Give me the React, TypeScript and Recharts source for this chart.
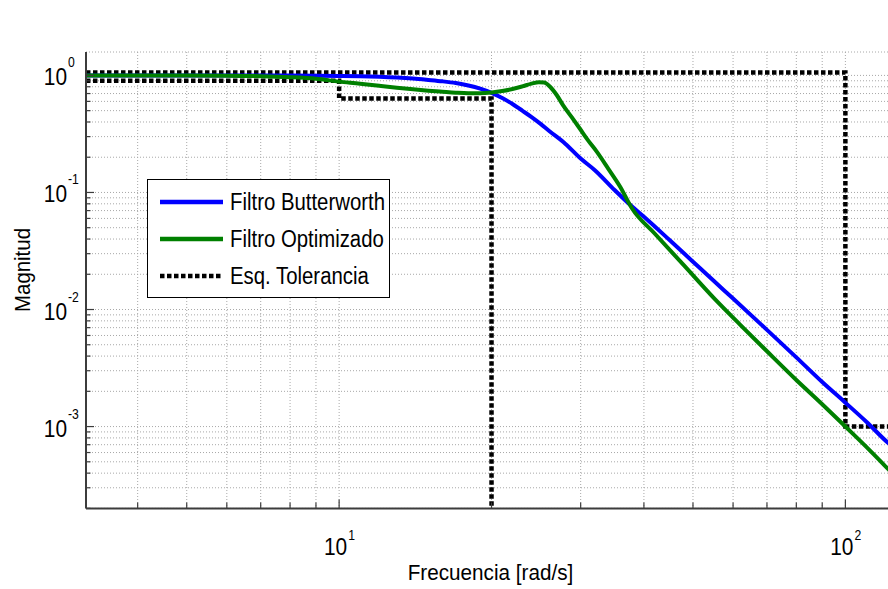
import React from 'react';
import { LineChart, Line, XAxis, YAxis, CartesianGrid, Legend, Label } from 'recharts';

const FONT = '"Liberation Sans", Arial, Helvetica, sans-serif';
const AXIS = '#3c3c3c';
const GRID = '#a8a8a8';
const SX = 0.87; // horizontal condensation of the reference's lettering

// axis ranges (log10 decades)
const X_MIN = 3.1623; // 10^0.5
const X_MAX = 125.89; // 10^2.1
const Y_MIN = 0.00019953; // 10^-3.7
const Y_MAX = 1.5849; // 10^0.2

// tick values
const xTicks = [4, 5, 6, 7, 8, 9, 10, 20, 30, 40, 50, 60, 70, 80, 90, 100];
const yDecades = [0.0001, 0.001, 0.01, 0.1, 1];
const yMultipliers = [1, 2, 3, 4, 5, 6, 7, 8, 9];
const yTicks: number[] = [];
yDecades.forEach((d) => yMultipliers.forEach((m) => {
  const v = +(d * m).toPrecision(3);
  if (v >= Y_MIN && v <= Y_MAX) yTicks.push(v);
}));

// Filtro Butterworth
const butterFreq = [3.162, 5, 7, 8, 9, 10, 11, 12, 13, 14, 15, 16, 17, 18, 19, 20, 21, 22, 23, 24, 25, 26, 28, 30, 32, 35, 38, 40, 45, 50, 55, 60, 70, 80, 90, 100, 110, 121.7, 125.9];
const butterMag = [1.0, 1.0, 0.999, 0.997, 0.994, 0.99, 0.985, 0.975, 0.96, 0.94, 0.915, 0.89, 0.86, 0.82, 0.77, 0.71, 0.64, 0.57, 0.5, 0.44, 0.385, 0.335, 0.26, 0.195, 0.155, 0.105, 0.075, 0.062, 0.039, 0.0256, 0.0175, 0.0124, 0.0067, 0.0039, 0.0024, 0.0016, 0.0011, 0.00072, 0.00064];

// Filtro Optimizado
const optFreq = [3.162, 5, 6, 7, 8, 9, 10, 11, 12, 13, 14, 15, 16, 17, 18, 19, 20, 21, 22, 23, 24, 24.8, 25.4, 26.1, 26.9, 27.7, 28.8, 29.9, 31, 32.3, 34, 35.9, 37.9, 42, 48, 55, 62, 70, 80, 90, 100, 112, 121.7, 125.9];
const optMag = [1.0, 0.998, 0.995, 0.985, 0.965, 0.935, 0.885, 0.85, 0.815, 0.785, 0.76, 0.74, 0.725, 0.712, 0.705, 0.705, 0.715, 0.735, 0.765, 0.805, 0.85, 0.875, 0.87, 0.8, 0.68, 0.555, 0.44, 0.35, 0.28, 0.222, 0.16, 0.112, 0.073, 0.0446, 0.0238, 0.0125, 0.0074, 0.0044, 0.0025, 0.00155, 0.001, 0.00062, 0.00043, 0.00037];

// Esquema de tolerancia
const tolLowFreq = [3.162, 10, 10, 20, 20];
const tolLowMag = [0.9, 0.9, 0.635, 0.635, 0.00021];
const tolHighFreq = [3.162, 100, 100, 125.9];
const tolHighMag = [1.06, 1.06, 0.001, 0.001];

const zip = (f: number[], m: number[]) => f.map((v, i) => ({ f: v, m: m[i] }));
const butterData = zip(butterFreq, butterMag);
const optData = zip(optFreq, optMag);
const tolLowData = zip(tolLowFreq, tolLowMag);
const tolHighData = zip(tolHighFreq, tolHighMag);

const legendItems = [
  { name: 'Filtro Butterworth', color: '#0000ff', dash: undefined as string | undefined },
  { name: 'Filtro Optimizado', color: '#008000', dash: undefined as string | undefined },
  { name: 'Esq. Tolerancia', color: '#000000', dash: '4.5 2.5' },
];

const isMajor = (v: number) => Math.abs(Math.log10(v) - Math.round(Math.log10(v))) < 1e-6;

// condensed text helper
const CText = ({ x, y, size, anchor = 'start', sx = SX, rotate = 0, children }: any) => (
  <text
    transform={`translate(${x},${y}) rotate(${rotate}) scale(${sx},1)`}
    x={0}
    y={0}
    fontFamily={FONT}
    fontSize={size}
    textAnchor={anchor}
    fill="#000"
  >
    {children}
  </text>
);

const XTickBottom = (props: any) => {
  const { x, y, payload } = props;
  const v = payload.value;
  const major = isMajor(v);
  const e = Math.round(Math.log10(v));
  return (
    <g>
      <line x1={x} x2={x} y1={y} y2={y - (major ? 9 : 6)} stroke={AXIS} strokeWidth={1.2} />
      {major && (
        <g>
          <CText x={x + 8} y={y + 46.5} size={24} anchor="end">10</CText>
          <CText x={x + 9} y={y + 31} size={14} anchor="start">{e}</CText>
        </g>
      )}
    </g>
  );
};

const XTickTop = (props: any) => {
  const { x, y, payload } = props;
  const major = isMajor(payload.value);
  return <line x1={x} x2={x} y1={y} y2={y + (major ? 9 : 6)} stroke={AXIS} strokeWidth={1.2} />;
};

const YTickLeft = (props: any) => {
  const { x, y, payload } = props;
  const v = payload.value;
  const major = isMajor(v);
  const e = Math.round(Math.log10(v));
  return (
    <g>
      <line x1={x} x2={x + (major ? 8 : 4.5)} y1={y} y2={y} stroke={AXIS} strokeWidth={1.2} />
      {major && (
        <g>
          <CText x={x - 19} y={y + 10} size={24} anchor="end">10</CText>
          <CText x={x - 18} y={y - 8} size={14} anchor="start">{e}</CText>
        </g>
      )}
    </g>
  );
};

const LegendBox = () => (
  <div
    style={{
      width: 243,
      height: 119,
      border: '1.5px solid #000',
      background: '#fff',
      boxSizing: 'border-box',
      fontFamily: FONT,
      fontSize: 23,
      color: '#000',
      position: 'relative',
    }}
  >
    {legendItems.map((it, i) => (
      <div
        key={it.name}
        style={{ position: 'absolute', left: 0, top: [7, 44, 81][i], height: 30, display: 'flex', alignItems: 'center', whiteSpace: 'nowrap' }}
      >
        <svg width={82} height={10} style={{ display: 'block', flex: 'none' }}>
          <line x1={12} x2={75} y1={5} y2={5} stroke={it.color} strokeWidth={4.5} strokeDasharray={it.dash} />
        </svg>
        <span style={{ display: 'inline-block', transform: 'scaleX(0.885)', transformOrigin: 'left center', lineHeight: '30px' }}>{it.name}</span>
      </div>
    ))}
  </div>
);

export default function App() {
  return (
    <div style={{ position: 'absolute', left: 0, top: 0, width: 888, height: 589, overflow: 'hidden', background: '#fff' }}>
      <LineChart width={896} height={589} margin={{ top: 52, right: 0, bottom: 0, left: 0 }}>
        <CartesianGrid stroke={GRID} strokeDasharray="1 2" strokeWidth={1} />
        <XAxis
          dataKey="f"
          type="number"
          scale="log"
          domain={[X_MIN, X_MAX]}
          allowDataOverflow
          ticks={xTicks}
          interval={0}
          height={80.5}
          tickSize={0}
          tickMargin={0}
          tickLine={false}
          axisLine={{ stroke: AXIS, strokeWidth: 2 }}
          tick={(p: any) => <XTickBottom {...p} />}
        >
          <Label
            content={() => (
              <CText x={490.5} y={580} size={22.5} anchor="middle" sx={0.92}>
                Frecuencia [rad/s]
              </CText>
            )}
          />
        </XAxis>
        <XAxis
          xAxisId="top"
          orientation="top"
          dataKey="f"
          type="number"
          scale="log"
          domain={[X_MIN, X_MAX]}
          allowDataOverflow
          ticks={xTicks}
          interval={0}
          height={0}
          tickSize={0}
          tickMargin={0}
          tickLine={false}
          axisLine={{ stroke: AXIS, strokeWidth: 2 }}
          tick={(p: any) => <XTickTop {...p} />}
        >
          <Label
            content={() => (
              <CText x={489} y={33} size={19.5} anchor="middle" sx={0.95}>
                |H(jw)|
              </CText>
            )}
          />
        </XAxis>
        <YAxis
          type="number"
          scale="log"
          domain={[Y_MIN, Y_MAX]}
          allowDataOverflow
          ticks={yTicks}
          interval={0}
          width={86}
          tickSize={0}
          tickMargin={0}
          tickLine={false}
          axisLine={{ stroke: AXIS, strokeWidth: 2 }}
          tick={(p: any) => <YTickLeft {...p} />}
        >
          <Label
            content={() => (
              <CText x={30} y={270} size={21.5} anchor="middle" rotate={-90} sx={0.95}>
                Magnitud
              </CText>
            )}
          />
        </YAxis>
        <Legend
          layout="vertical"
          align="center"
          verticalAlign="middle"
          wrapperStyle={{ left: 147, top: 179, width: 243, height: 119 }}
          content={() => <LegendBox />}
        />
        <Line data={tolHighData} dataKey="m" type="linear" stroke="#000" strokeWidth={4.5} strokeDasharray="4.5 2.5" dot={false} activeDot={false} isAnimationActive={false} legendType="none" />
        <Line data={tolLowData} dataKey="m" type="linear" stroke="#000" strokeWidth={4.5} strokeDasharray="4.5 2.5" dot={false} activeDot={false} isAnimationActive={false} legendType="none" />
        <Line data={butterData} dataKey="m" name="Filtro Butterworth" type="monotone" stroke="#0000ff" strokeWidth={4} dot={false} activeDot={false} isAnimationActive={false} />
        <Line data={optData} dataKey="m" name="Filtro Optimizado" type="monotone" stroke="#008000" strokeWidth={4} dot={false} activeDot={false} isAnimationActive={false} />
      </LineChart>
    </div>
  );
}
